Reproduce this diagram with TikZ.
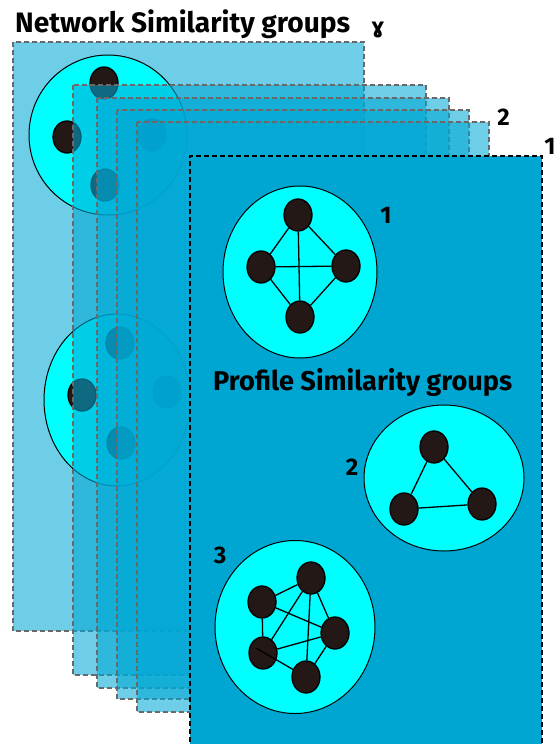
\documentclass[tikz,border=0pt]{standalone}
\usepackage{fontspec}
\setmainfont{Fira Sans}
\newfontfamily\dejavu{DejaVu Sans}
\usetikzlibrary{shapes.geometric}
\definecolor{layerblue}{RGB}{0,168,212}
\definecolor{frontblue}{RGB}{0,166,210}
\definecolor{brightcyan}{RGB}{0,255,255}
\definecolor{nodedark}{RGB}{35,24,21}
\definecolor{dashgray}{RGB}{105,105,105}
\tikzset{
  layer/.style={fill=layerblue, fill opacity=0.57, draw=dashgray, draw opacity=1, line width=2.6pt, dash pattern=on 5pt off 3pt},
  frontedge/.style={draw=black, line width=2.8pt, dash pattern=on 5pt off 3pt},
  cluster/.style={ellipse, draw=black, line width=1pt, fill=brightcyan, inner sep=0pt},
  vtx/.style={ellipse, draw=black, line width=1.3pt, fill=nodedark, minimum width=28pt, minimum height=32pt, inner sep=0pt},
  link/.style={draw=black, line width=1.3pt},
  lbl/.style={font=\fontsize{24}{26}\selectfont\bfseries, inner sep=0pt},
}
\begin{document}
\begin{tikzpicture}[x=1pt,y=-1pt]
\useasboundingbox (0,0) rectangle (558,744);
% back layer
\draw[layer] (13,42) rectangle (364,631);
% back clusters
\node[cluster, minimum width=158pt, minimum height=160pt] (bc1) at (108,135) {};
\node[vtx] (b1a) at (104,83) {};
\node[vtx] (b1b) at (67,137) {};
\node[vtx] (b1c) at (105,185) {};
\node[vtx] (b1d) at (152,135) {};
\node[cluster, minimum width=146pt, minimum height=172pt] (bc2) at (117,400) {};
\node[vtx] (b2a) at (120,343) {};
\node[vtx] (b2b) at (82,395) {};
\node[vtx] (b2c) at (121,443) {};
\node[vtx] (b2d) at (167,392) {};
% intermediate layers
\draw[layer] (73,85) rectangle (426,675);
\draw[layer] (97,98) rectangle (449,688);
\draw[layer] (117,110) rectangle (469,699);
\draw[layer] (137,122) rectangle (489,712);
% front layer
\fill[frontblue] (190,156) rectangle (542,750);
\draw[frontedge] (190,750) -- (190,156) -- (542,156) -- (542,750);
% titles
\node[anchor=base west, inner sep=0pt] (title) at (15,33) {\resizebox{335pt}{!}{\bfseries Network Similarity groups}};
\node[inner sep=0pt] (gam) at (378,30) {\dejavu\bfseries\fontsize{21}{21}\selectfont ɣ};
\node[anchor=base west, inner sep=0pt] (profile) at (213,390) {\resizebox{299pt}{!}{\bfseries Profile Similarity groups}};
\node[lbl] (l2top) at (503.5,117) {2};
\node[lbl] (l1top) at (550,146) {1};
% cluster 1
\node[cluster, minimum width=154pt, minimum height=172pt] (c1) at (300,272) {};
\node[vtx] (p1) at (298,215) {};
\node[vtx] (p2) at (261,267) {};
\node[vtx] (p3) at (346,266) {};
\node[vtx] (p4) at (300,317) {};
\draw[link] (p1) -- (p2) (p1) -- (p3) (p1) -- (p4) (p2) -- (p3) (p2) -- (p4) (p3) -- (p4);
\node[lbl] (lc1) at (386,215) {1};
% cluster 2
\node[cluster, minimum width=160pt, minimum height=146pt] (c2) at (444,478) {};
\node[vtx] (q1) at (434,447) {};
\node[vtx] (q2) at (404,509) {};
\node[vtx] (q3) at (482,504) {};
\draw[link] (q1) -- (q2) (q2) -- (q3) (q3) -- (q1);
\node[lbl] (lc2) at (352,467) {2};
% cluster 3
\node[cluster, minimum width=160pt, minimum height=173pt] (c3) at (295,627) {};
\node[vtx] (r1) at (262,602) {};
\node[vtx] (r2) at (311,578) {};
\node[vtx] (r3) at (335,633) {};
\node[vtx] (r4) at (263,653) {};
\node[vtx] (r5) at (306,677) {};
\coordinate (r4tail) at (256,648);
\draw[link] (r1) -- (r2) (r1) -- (r3) (r1) -- (r4) (r2) -- (r4) (r2) -- (r5) (r2) -- (r3) (r4) -- (r3) (r3) -- (r5);
\draw[link] (r4tail) -- (r5);
\node[lbl] (lc3) at (220,555) {3};
\end{tikzpicture}
\end{document}
